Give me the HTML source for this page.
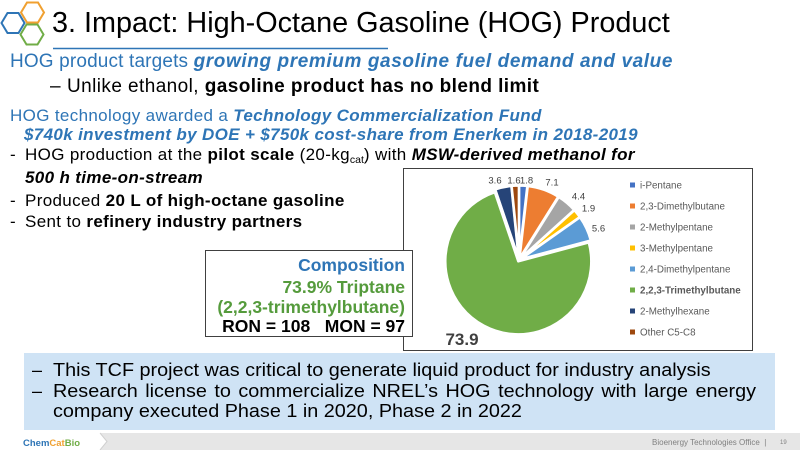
<!DOCTYPE html>
<html><head><meta charset="utf-8">
<style>
*{margin:0;padding:0;box-sizing:border-box}
body{width:800px;height:450px;overflow:hidden;background:#fff;position:relative;font-family:"Liberation Sans",Arial,sans-serif;color:#000}
.t{position:absolute;white-space:nowrap;line-height:1}
.blue{color:#2E75B6}
.bi{font-weight:bold;font-style:italic}
b{font-weight:bold}
.m{font-size:17px;letter-spacing:0.35px}
.bx{font-size:18px;transform:scaleX(1.1);transform-origin:0 0}
</style></head><body>

<svg style="position:absolute;left:0;top:0" width="800" height="450">
  <polygon points="1.5,23 7.5,13 18.5,13 24.5,23 18.5,33 7.5,33" fill="none" stroke="#2E75B6" stroke-width="2"/>
  <polygon points="21,12.5 27,2.5 38,2.5 44,12.5 38,22.5 27,22.5" fill="none" stroke="#F0A030" stroke-width="2"/>
  <polygon points="20.5,34.5 26.5,24.5 37.5,24.5 43.5,34.5 37.5,44.5 26.5,44.5" fill="none" stroke="#70AD47" stroke-width="2"/>
  <line x1="53" y1="48.5" x2="388" y2="48.5" stroke="#2E75B6" stroke-width="1.5"/>
  <rect x="403.5" y="168.5" width="349" height="182" fill="#fff" stroke="#404040" stroke-width="1"/>
  <g stroke="#fff" stroke-width="2.5" stroke-linejoin="round">
    <path transform="translate(0.085,-1.498)" d="M519,260 L519,187 A73,73 0 0 1 527.25,187.47 Z" fill="#4472C4"/>
    <path transform="translate(0.495,-1.416)" d="M519,260 L527.25,187.47 A73,73 0 0 1 557.77,198.14 Z" fill="#ED7D31"/>
    <path transform="translate(0.964,-1.149)" d="M519,260 L557.77,198.14 A73,73 0 0 1 573.19,211.09 Z" fill="#A5A5A5"/>
    <path transform="translate(1.171,-0.937)" d="M519,260 L573.19,211.09 A73,73 0 0 1 578.64,217.90 Z" fill="#FFC000"/>
    <path transform="translate(1.358,-0.637)" d="M519,260 L578.64,217.90 A73,73 0 0 1 589.50,241.05 Z" fill="#5B9BD5"/>
    <path transform="translate(-0.707,1.323)" d="M519,260 L589.50,241.05 A73,73 0 1 1 495.55,190.87 Z" fill="#70AD47"/>
    <path transform="translate(-0.318,-1.466)" d="M519,260 L495.55,190.87 A73,73 0 0 1 511.67,187.37 Z" fill="#264478"/>
    <path transform="translate(-0.075,-1.498)" d="M519,260 L511.67,187.37 A73,73 0 0 1 519,187 Z" fill="#9E480E"/>
  </g>
  <g font-family="Liberation Sans, Arial, sans-serif" font-size="9.5" fill="#404040" text-anchor="middle">
    <text x="495" y="183.5">3.6</text>
    <text x="514" y="183.5">1.6</text>
    <text x="526.5" y="183.5">1.8</text>
    <text x="552" y="185.5">7.1</text>
    <text x="578.5" y="199.5">4.4</text>
    <text x="588.5" y="211.5">1.9</text>
    <text x="598.5" y="231.5">5.6</text>
  </g>
  <text x="462" y="345" font-family="Liberation Sans, Arial, sans-serif" font-size="17" font-weight="bold" fill="#404040" text-anchor="middle">73.9</text>
  <g font-family="Liberation Sans, Arial, sans-serif" font-size="9.8" fill="#595959">
    <rect x="630" y="182.5" width="5" height="5" fill="#4472C4"/><text x="640" y="188.5">i-Pentane</text>
    <rect x="630" y="203.5" width="5" height="5" fill="#ED7D31"/><text x="640" y="209.5">2,3-Dimethylbutane</text>
    <rect x="630" y="224.5" width="5" height="5" fill="#A5A5A5"/><text x="640" y="230.5">2-Methylpentane</text>
    <rect x="630" y="245.5" width="5" height="5" fill="#FFC000"/><text x="640" y="251.5">3-Methylpentane</text>
    <rect x="630" y="266.5" width="5" height="5" fill="#5B9BD5"/><text x="640" y="272.5">2,4-Dimethylpentane</text>
    <rect x="630" y="287.5" width="5" height="5" fill="#70AD47"/><text x="640" y="293.5" font-weight="bold">2,2,3-Trimethylbutane</text>
    <rect x="630" y="308.5" width="5" height="5" fill="#264478"/><text x="640" y="314.5">2-Methylhexane</text>
    <rect x="630" y="329.5" width="5" height="5" fill="#9E480E"/><text x="640" y="335.5">Other C5-C8</text>
  </g>
  <rect x="205.5" y="250.5" width="207" height="86" fill="#fff" stroke="#404040" stroke-width="1"/>
  <rect x="24" y="353" width="751" height="77" fill="#CFE3F5"/>
  <rect x="0" y="433" width="800" height="17" fill="#E6E6E6"/>
  <polygon points="0,433 100,433 107,441.5 100,450 0,450" fill="#fff"/>
  <polyline points="100,433 107,441.5 100,450" fill="none" stroke="#D0D0D0" stroke-width="1"/>
</svg>

<div class="t" style="left:52px;top:8.6px;font-size:28.8px;">3. Impact: High-Octane Gasoline (HOG) Product</div>

<div class="t blue" style="left:10px;top:51.9px;font-size:19px;letter-spacing:0.15px;">HOG product targets <span class="bi" style="letter-spacing:0.6px">growing premium gasoline fuel demand and value</span></div>
<div class="t" style="left:50px;top:76.6px;font-size:19px;">–</div>
<div class="t" style="left:67px;top:76.6px;font-size:19px;letter-spacing:0.42px;">Unlike ethanol, <b>gasoline product has no blend limit</b></div>

<div class="t blue m" style="left:10px;top:106.6px;">HOG technology awarded a <span class="bi">Technology Commercialization Fund</span></div>
<div class="t blue bi m" style="left:24px;top:125.6px;">$740k investment by DOE + $750k cost-share from Enerkem in 2018-2019</div>
<div class="t m" style="left:10px;top:145.6px;">-</div>
<div class="t m" style="left:25px;top:145.6px;">HOG production at the <b>pilot scale</b> (20-kg<sub style="font-size:10.5px;vertical-align:-3px;line-height:0;letter-spacing:0">cat</sub>) with <span class="bi">MSW-derived methanol for</span></div>
<div class="t bi m" style="left:25px;top:169.1px;">500 h time-on-stream</div>
<div class="t m" style="left:10px;top:191.6px;">-</div>
<div class="t m" style="left:25px;top:191.6px;">Produced <b>20 L of high-octane gasoline</b></div>
<div class="t m" style="left:10px;top:212.6px;">-</div>
<div class="t m" style="left:25px;top:212.6px;">Sent to <b>refinery industry partners</b></div>

<div class="t" style="right:395px;top:257.2px;font-size:17.5px;font-weight:bold;color:#2E75B6;">Composition</div>
<div class="t" style="right:395px;top:279.2px;font-size:17.5px;font-weight:bold;color:#559B3C;">73.9% Triptane</div>
<div class="t" style="right:395px;top:299.2px;font-size:17.5px;font-weight:bold;color:#559B3C;">(2,2,3-trimethylbutane)</div>
<div class="t" style="right:395px;top:318.2px;font-size:17.5px;font-weight:bold;color:#000;">RON = 108&nbsp;&nbsp; MON = 97</div>

<div class="t" style="left:32px;top:360.5px;font-size:18px;">–</div>
<div class="t bx" style="left:53px;top:360.5px;">This TCF project was critical to generate liquid product for industry analysis</div>
<div class="t" style="left:32px;top:381.5px;font-size:18px;">–</div>
<div class="t bx" style="left:53px;top:381.5px;word-spacing:1.8px;">Research license to commercialize NREL’s HOG technology with large energy</div>
<div class="t bx" style="left:53px;top:402.1px;">company executed Phase 1 in 2020, Phase 2 in 2022</div>

<div class="t" style="left:23px;top:438.5px;font-size:9.5px;font-weight:bold;"><span style="color:#2E75B6">Chem</span><span style="color:#F0A030">Cat</span><span style="color:#70AD47">Bio</span></div>
<div class="t" style="left:652px;top:439px;font-size:8px;color:#808080;">Bioenergy Technologies Office &nbsp;|</div>
<div class="t" style="left:780px;top:440px;font-size:6px;color:#808080;">19</div>

</body></html>
